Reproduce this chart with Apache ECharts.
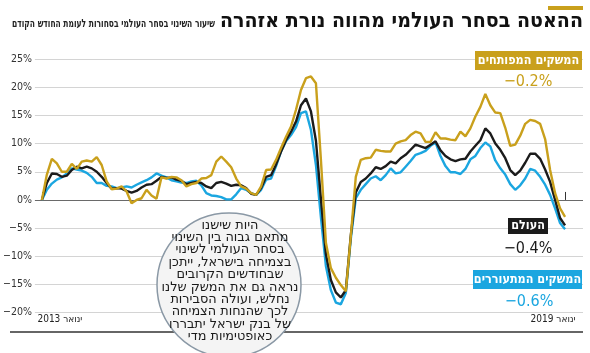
<!DOCTYPE html>
<html><head><meta charset="utf-8">
<script src="https://cdn.jsdelivr.net/npm/echarts@6/dist/echarts.min.js"></script>
<style>html,body{margin:0;padding:0;background:#fff}#c{width:590px;height:353px}</style>
</head><body><div id="c"></div>
<script>
// monthly change in world goods trade (%)
const developed = [
 0, 4.5, 7.3, 6.5, 5.0, 5.0, 6.4, 5.5, 6.8, 7.0,
 6.8, 7.6, 6.2, 3.3, 1.9, 2.0, 2.4, 1.5, -0.6, 0.0,
 0.3, 1.8, 0.8, 0.2, 4.0, 3.8, 4.1, 4.0, 3.5, 2.4,
 2.8, 3.0, 3.8, 3.9, 4.4, 6.8, 7.7, 6.8, 5.8, 3.8,
 2.4, 2.0, 1.2, 0.9, 2.4, 5.3, 5.4, 7.1, 9.2, 11.2,
 13.0, 16.0, 19.5, 21.6, 21.9, 20.7, 7.1, -7.6, -12.1, -13.8,
 -15.1, -16.2, -6.4, 4.1, 7.1, 7.4, 7.5, 8.9, 8.7, 8.6,
 8.6, 10.0, 10.4, 10.6, 11.5, 12.1, 11.8, 10.3, 10.3, 12.0,
 10.9, 10.9, 10.7, 10.6, 12.1, 11.3, 12.7, 14.8, 16.5, 18.8,
 16.8, 15.5, 15.4, 12.8, 9.6, 9.8, 11.4, 13.5, 14.2, 14.0,
 13.5, 10.8, 5.3, 1.2, -1.5, -3.0
];
const world = [
 0, 3.0, 4.7, 4.6, 4.1, 4.3, 5.3, 5.9, 5.6, 5.9,
 5.6, 5.0, 4.1, 3.0, 2.0, 2.1, 2.0, 1.6, 1.3, 1.6,
 2.2, 2.7, 2.8, 3.4, 4.1, 3.9, 4.0, 3.6, 3.4, 2.8,
 3.0, 3.2, 3.0, 2.4, 2.1, 3.0, 3.2, 2.9, 2.5, 2.7,
 2.6, 2.1, 1.1, 0.9, 2.1, 4.1, 4.4, 6.3, 8.6, 10.6,
 12.1, 13.9, 16.8, 18.0, 15.7, 10.5, 0.2, -9.6, -14.2, -16.4,
 -17.3, -16.0, -6.3, 1.3, 3.2, 3.8, 4.7, 5.8, 5.5, 6.0,
 6.8, 6.5, 7.4, 8.0, 8.9, 9.8, 9.5, 9.2, 9.8, 10.4,
 8.8, 7.8, 7.2, 6.9, 7.2, 7.3, 8.6, 9.6, 10.6, 12.7,
 11.8, 10.0, 8.9, 7.4, 5.3, 4.4, 5.2, 6.6, 8.2, 8.2,
 7.3, 5.4, 3.2, 0.0, -3.2, -4.5
];
const emerging = [
 0, 1.8, 2.9, 3.6, 4.0, 4.7, 5.6, 5.4, 5.2, 4.8,
 4.1, 3.0, 3.0, 2.5, 2.4, 2.1, 2.2, 2.4, 2.2, 2.7,
 3.1, 3.5, 4.0, 4.7, 4.3, 4.0, 3.5, 3.3, 3.1, 3.0,
 3.3, 3.4, 2.6, 1.2, 0.8, 0.7, 0.5, 0.1, 0.1, 1.0,
 2.1, 1.8, 1.2, 0.9, 1.8, 3.6, 3.8, 6.0, 8.6, 10.4,
 11.5, 12.9, 15.4, 15.7, 12.4, 6.2, -3.1, -11.7, -16.0, -18.2,
 -18.5, -16.5, -6.9, 0.3, 1.8, 2.8, 3.8, 4.2, 3.5, 4.4,
 5.6, 4.7, 4.9, 5.9, 6.9, 8.0, 8.3, 8.7, 9.6, 10.2,
 7.8, 6.0, 4.9, 4.9, 4.6, 5.5, 7.2, 7.8, 9.2, 10.2,
 9.5, 7.0, 5.6, 4.5, 2.8, 1.8, 2.6, 3.8, 5.5, 5.2,
 4.1, 2.7, 0.9, -1.5, -4.1, -5.2
];
const yMin = -20, yMax = 25, yStep = 5;
const xTickLabels = ['ינואר 2013', 'ינואר 2019'];
const seriesNames = ['המשקים המפותחים', 'העולם', 'המשקים המתעוררים'];
const lastValues = ['−0.2%', '−0.4%', '−0.6%'];
const title = 'ההאטה בסחר העולמי מהווה נורת אזהרה';
const subtitle = 'שיעור השינוי בסחר העולמי בסחורות לעומת החודש הקודם';
const note = ['היות שישנו','מתאם גבוה בין השינוי','בסחר העולמי לשינוי','בצמיחה בישראל, ייתכן','שבחודשים הקרובים','נראה גם את המשק שלנו','נחלש, ועולה הסבירות','לכך שהנחות הצמיחה','של בנק ישראל יתבררו','כאופטימיות מדי'];

const GOLD = '#c9a01c', BLUE = '#1ba6e0', BLACK = '#1b1b1b';
const FONT = '"DejaVu Sans Condensed", "DejaVu Sans", sans-serif';
const N = world.length;
const toPairs = arr => arr.map((v, i) => [i, v]);
const lastIdx = N - 1;

// measure text to emulate the condensed newspaper font
const mctx = document.createElement('canvas').getContext('2d');
function textW(str, font) { mctx.font = font; return mctx.measureText(str).width; }
const titleFont = 'bold 21px ' + FONT;
const subFont = 'bold 11px ' + FONT;
const noteFont = '13px ' + FONT;
const titleScale = 363 / textW(title, titleFont);
const subScale = 203 / textW(subtitle, subFont);
const noteScale = 137 / textW(note[5], noteFont);

const chart = echarts.init(document.getElementById('c'), null, {renderer: 'canvas'});
const gridColors = [];
for (let v = yMin; v <= yMax; v += yStep) gridColors.push(v === 0 ? '#6a6a6a' : '#d4d4d4');

chart.setOption({
  animation: false,
  backgroundColor: '#fff',
  grid: {left: 33, right: 7, top: 59, bottom: 40.3},
  xAxis: {
    type: 'value', min: -1.4, max: lastIdx + 3.6,
    axisLine: {show: false}, splitLine: {show: false},
    axisTick: {show: true, inside: true, length: 8, customValues: [0, lastIdx], lineStyle: {color: '#333', width: 1}},
    axisLabel: {
      customValues: [0, lastIdx], margin: 2, color: '#222', fontFamily: FONT, fontSize: 10,
      formatter: v => v === 0 ? '{l|' + xTickLabels[0] + '}' : '{r|' + xTickLabels[1] + '}',
      rich: {
        l: {padding: [0, 0, 0, 36], fontFamily: FONT, fontSize: 10, color: '#222'},
        r: {padding: [0, 24, 0, 0], fontFamily: FONT, fontSize: 10, color: '#222'}
      }
    }
  },
  yAxis: {
    type: 'value', min: yMin, max: yMax, interval: yStep,
    axisLine: {show: false}, axisTick: {show: false},
    axisLabel: {margin: 3, color: '#333', fontFamily: FONT, fontSize: 10.5,
      formatter: v => (v < 0 ? '−' + (-v) : v) + '%'},
    splitLine: {lineStyle: {color: gridColors, width: 1}}
  },
  series: [
    {name: seriesNames[2], type: 'line', data: toPairs(emerging), showSymbol: false, lineStyle: {color: BLUE, width: 2.4}, z: 3},
    {name: seriesNames[1], type: 'line', data: toPairs(world), showSymbol: false, lineStyle: {color: BLACK, width: 2.4}, z: 4},
    {name: seriesNames[0], type: 'line', data: toPairs(developed), showSymbol: false, lineStyle: {color: GOLD, width: 2.4}, z: 5}
  ],
  graphic: [
    {type: 'rect', shape: {x: 548, y: 6, width: 35, height: 4}, style: {fill: GOLD}},
    {type: 'text', x: 583, y: 22, scaleX: titleScale, style: {text: title, fill: '#111', font: titleFont, textAlign: 'right', textVerticalAlign: 'middle'}},
    {type: 'text', x: 215, y: 24, scaleX: subScale, style: {text: subtitle, fill: '#222', font: subFont, textAlign: 'right', textVerticalAlign: 'middle'}},
    {type: 'line', shape: {x1: 10, y1: 332, x2: 583, y2: 332}, style: {stroke: '#333', lineWidth: 1.5}, z: 1},
    // legend labels
    {type: 'rect', shape: {x: 475, y: 51, width: 107, height: 19}, style: {fill: GOLD}, z: 20},
    {type: 'text', x: 528.5, y: 60.5, z: 21, style: {text: seriesNames[0], fill: '#fff', font: 'bold 12.5px ' + FONT, textAlign: 'center', textVerticalAlign: 'middle'}},
    {type: 'text', x: 528, y: 82, z: 21, style: {text: lastValues[0], fill: GOLD, font: '16px ' + FONT, textAlign: 'center', textVerticalAlign: 'middle'}},
    {type: 'rect', shape: {x: 508, y: 218, width: 40, height: 16}, style: {fill: BLACK}, z: 20},
    {type: 'text', x: 528, y: 226, z: 21, style: {text: seriesNames[1], fill: '#fff', font: 'bold 12.5px ' + FONT, textAlign: 'center', textVerticalAlign: 'middle'}},
    {type: 'text', x: 528, y: 249, z: 21, style: {text: lastValues[1], fill: BLACK, font: '16px ' + FONT, textAlign: 'center', textVerticalAlign: 'middle'}},
    {type: 'rect', shape: {x: 473, y: 270, width: 109, height: 19}, style: {fill: BLUE}, z: 20},
    {type: 'text', x: 527.5, y: 279.5, z: 21, style: {text: seriesNames[2], fill: '#fff', font: 'bold 12.5px ' + FONT, textAlign: 'center', textVerticalAlign: 'middle'}},
    {type: 'text', x: 529, y: 301.5, z: 21, style: {text: lastValues[2], fill: BLUE, font: '16px ' + FONT, textAlign: 'center', textVerticalAlign: 'middle'}},
    // annotation bubble
    {type: 'circle', shape: {cx: 229, cy: 285, r: 72}, style: {fill: '#f4f4f4', stroke: '#8a98a5', lineWidth: 1.5}, z: 30},
    {type: 'text', x: 230, y: 281, z: 31, scaleX: noteScale, style: {text: note.join('\n'), fill: '#1a1a1a', font: noteFont, lineHeight: 12.4, textAlign: 'center', textVerticalAlign: 'middle'}}
  ]
});
</script>
</body></html>
